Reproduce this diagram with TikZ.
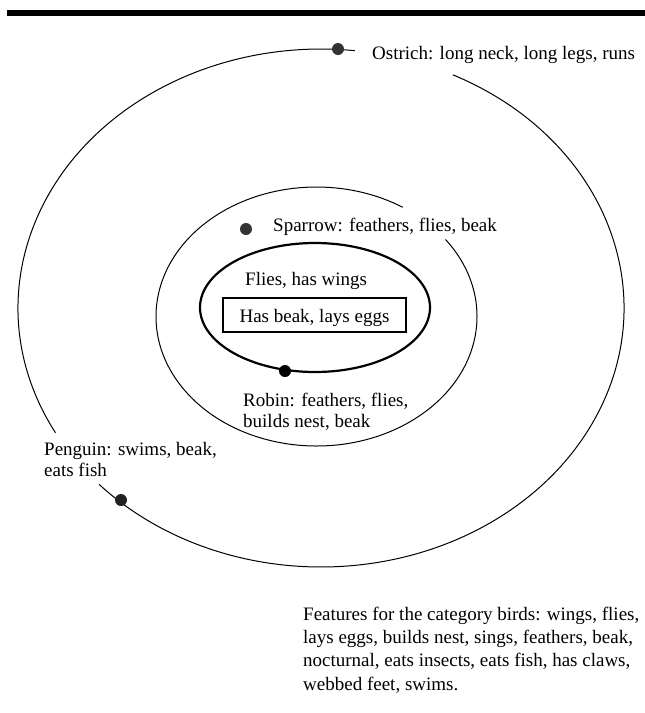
\documentclass[tikz,border=0pt]{standalone}
\usepackage{fontspec}
\setmainfont{Liberation Serif}
\usepackage{tikz}

\begin{document}
\begin{tikzpicture}[x=1pt, y=-1pt, font=\fontsize{19}{21}\selectfont,
  ring/.style={draw, line width=1pt},
  bold/.style={draw, line width=2.2pt},
  dot/.style={circle, fill=#1, inner sep=0pt, minimum size=12pt},
  lbl/.style={anchor=base west, inner sep=0pt, align=left}]
\useasboundingbox (0,0) rectangle (645,713);
\fill (7,10) rectangle (645,16);
\coordinate (oc) at (321,308);
\coordinate (mc) at (316.5,316.5);
\coordinate (ic) at (315,307.5);
\draw[ring] (oc) ++(-64.2:303 and 259) arc[start angle=-64.2, end angle=137.1, x radius=303, y radius=259];
\draw[ring] (oc) ++(151.2:303 and 259) arc[start angle=151.2, end angle=276.4, x radius=303, y radius=259];
\draw[ring] (mc) ++(-36.5:160.5 and 129.5) arc[start angle=-36.5, end angle=302.5, x radius=160.5, y radius=129.5];
\draw[bold] (ic) ellipse[x radius=115, y radius=64.5];
\node[bold, inner sep=0pt, text height=24.7pt, text depth=9.3pt, minimum width=183pt, anchor=base] (core) at (314.5,322.7) {Has beak, lays eggs};
\node[dot=black!80] (ostrich) at (338,49) {};
\node[dot=black!80] (sparrow) at (246,229) {};
\node[dot=black] (robin) at (285,371) {};
\node[dot=black!87] (penguin) at (121,500) {};
\node[lbl] (ostrichtxt) at (372,59) {Ostrich: long neck, long legs, runs};
\node[lbl] (sparrowtxt) at (273,231.7) {Sparrow: feathers, flies, beak};
\node[lbl] (wingstxt) at (245,285.7) {Flies, has wings};
\node[lbl] (robintxt) at (243,427.7) {Robin: feathers, flies,\\builds nest, beak};
\node[lbl] (penguintxt) at (44,476.7) {Penguin: swims, beak,\\eats fish};
\node[lbl, font=\fontsize{19}{23.3}\selectfont] (features) at (303,690) {Features for the category birds: wings, flies,\\lays eggs, builds nest, sings, feathers, beak,\\nocturnal, eats insects, eats fish, has claws,\\webbed feet, swims.};
\end{tikzpicture}
\end{document}
